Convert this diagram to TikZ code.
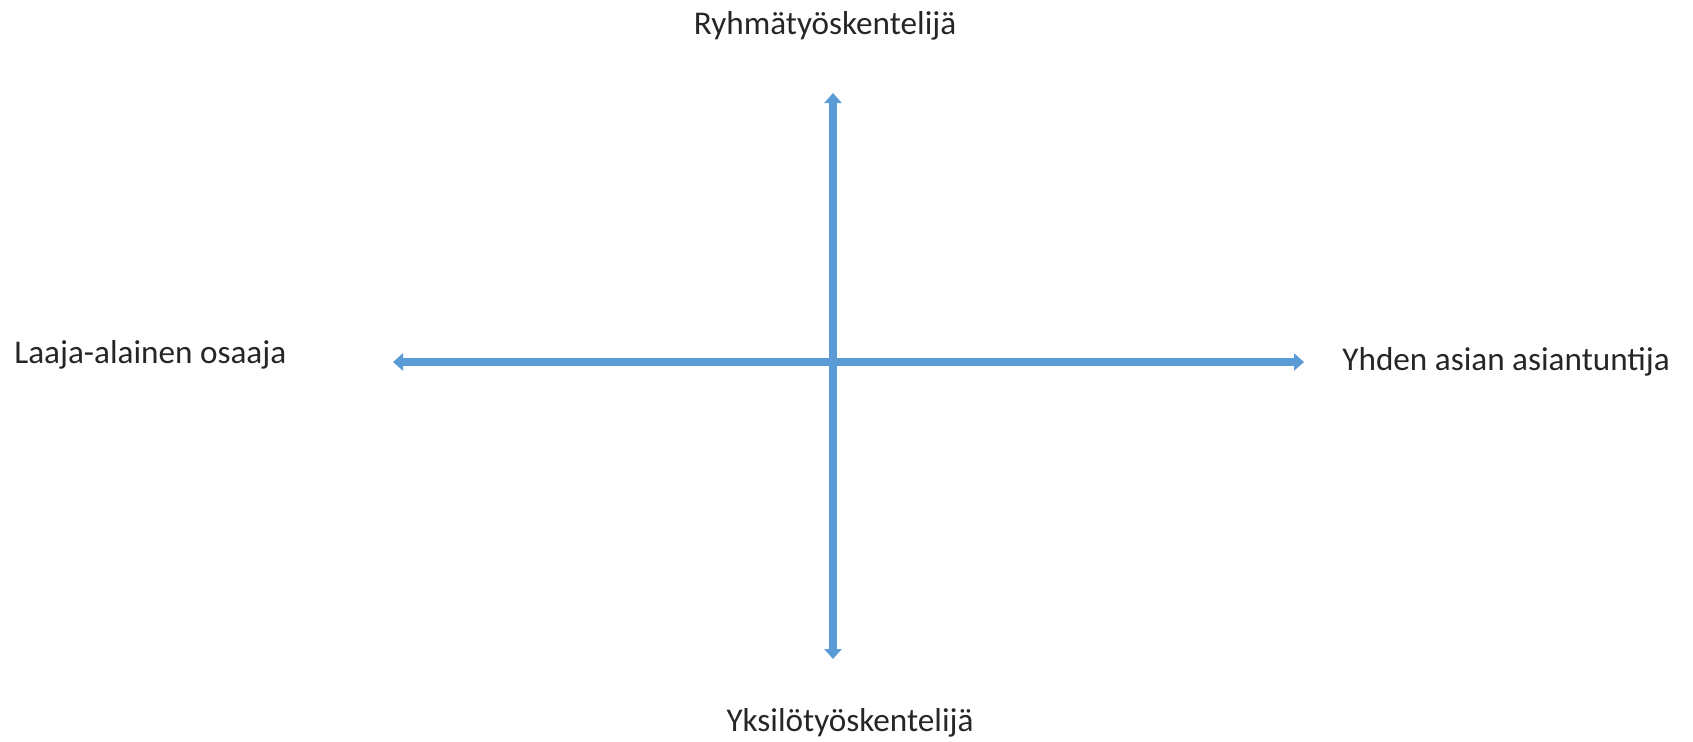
\documentclass[tikz,border=0pt]{standalone}
\usepackage{fontspec}
\setmainfont{Carlito}
\usetikzlibrary{arrows.meta}
\definecolor{axisblue}{HTML}{5B9BD5}
\definecolor{labelgray}{HTML}{262626}
\tikzset{
  axis/.style={draw=axisblue, line width=3.6pt, {Triangle[width=8.5pt,length=5pt]}-{Triangle[width=8.5pt,length=5pt]}},
  lbl/.style={inner sep=0pt, font=\fontsize{16.6pt}{19pt}\selectfont, text=labelgray}
}
\begin{document}
\begin{tikzpicture}[x=0.5pt,y=-0.5pt]
\useasboundingbox (0,0) rectangle (1693,741);
\coordinate (top) at (833,93);
\coordinate (bot) at (833,659);
\coordinate (left) at (393,362);
\coordinate (right) at (1304,362);
\draw[axis] (left) -- (right);
\draw[axis] (bot) -- (top);
\node[lbl, anchor=base] (n) at (825,34) {Ryhmätyöskentelijä};
\node[lbl, anchor=base] (s) at (850,731) {Yksilötyöskentelijä};
\node[lbl, anchor=base west] (w) at (14,363) {Laaja-alainen osaaja};
\node[lbl, anchor=base west] (e) at (1342,370) {Yhden asian asiantuntija};
\end{tikzpicture}
\end{document}
